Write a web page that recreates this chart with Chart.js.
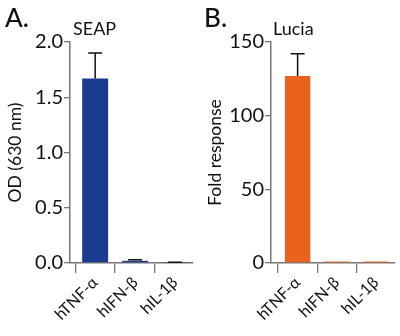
<!DOCTYPE html>
<html><head><meta charset="utf-8">
<script src="https://cdn.jsdelivr.net/npm/chart.js@4"></script>
<style>
html,body{margin:0;padding:0;background:#fff;}
#wrap{position:relative;width:400px;height:336px;overflow:hidden;font-family:Lato,"Noto Sans",sans-serif;color:#111;}
.c{position:absolute;top:0;width:200px;height:336px;}
.lbl{position:absolute;white-space:nowrap;}
</style></head>
<body><div id="wrap">
<div class="c" style="left:0"><canvas id="a" width="200" height="336"></canvas></div>
<div class="c" style="left:200px"><canvas id="b" width="200" height="336"></canvas></div>
<div class="lbl" style="left:5px;top:1px;font-size:26px;font-weight:500;">A.</div>
<div class="lbl" style="left:73px;top:17px;font-size:18px;">SEAP</div>
<div class="lbl" style="left:204px;top:1px;font-size:26px;font-weight:500;">B.</div>
<div class="lbl" style="left:273px;top:17px;font-size:18px;">Lucia</div>
</div>
<script>
const categories = ["hTNF-\u03b1", "hIFN-\u03b2", "hIL-1\u03b2"];
const seapValues = [1.67, 0.02, 0.003];
const seapErrTop = [1.90, 0.03, 0.006];
const luciaValues = [127, 1, 1];
const luciaErrTop = [142, 1, 1];
const seapTicks = [0, 0.5, 1.0, 1.5, 2.0];
const luciaTicks = [0, 50, 100, 150];

const errPlugin = {
  id: 'err',
  afterDatasetsDraw(chart, args, opts) {
    const ctx = chart.ctx, x = chart.scales.x, y = chart.scales.y;
    const vals = opts.values, tops = opts.tops;
    ctx.save();
    ctx.strokeStyle = '#111';
    ctx.lineWidth = 1.5;
    tops.forEach((t, i) => {
      if (t <= vals[i]) return;
      const px = x.getPixelForValue(i);
      const y0 = y.getPixelForValue(vals[i]);
      const y1 = y.getPixelForValue(t);
      ctx.beginPath();
      ctx.moveTo(px, y0); ctx.lineTo(px, y1);
      ctx.moveTo(px - 7, y1); ctx.lineTo(px + 7, y1);
      ctx.stroke();
    });
    ctx.restore();
  }
};

function make(id, values, tops, ticks, color, title, dec, yW, start, range, rightPad) {
  const tickSet = ticks;
  new Chart(document.getElementById(id), {
    type: 'bar',
    data: { labels: categories, datasets: [{ data: values, backgroundColor: color, borderWidth: 0,
      categoryPercentage: 1, barPercentage: 0.65 }] },
    options: {
      responsive: false, animation: false, devicePixelRatio: 1,
      layout: { padding: { top: 42, right: rightPad, left: 0, bottom: 0 } },
      plugins: { legend: { display: false }, tooltip: { enabled: false }, err: { values, tops } },
      scales: {
        x: {
          offset: true,
          afterBuildTicks(s) { s._startValue = start; s._valueRange = range; },
          grid: { display: true, drawOnChartArea: false, drawTicks: true, tickLength: 10, color: '#777', lineWidth: 1.3 },
          border: { display: true, color: '#777', width: 1.5 },
          ticks: { color: '#111', font: { family: 'Lato', size: 16 }, minRotation: 45, maxRotation: 45, padding: 0 },
          afterFit(s) { s.height = 73; }
        },
        y: {
          min: tickSet[0], max: tickSet[tickSet.length - 1],
          afterBuildTicks(s) { s.ticks = tickSet.map(v => ({ value: v })); },
          grid: { display: true, drawOnChartArea: false, drawTicks: true, tickLength: 6, color: '#777', lineWidth: 1.3 },
          border: { display: true, color: '#777', width: 1.5 },
          ticks: { color: '#111', font: { family: 'Lato', size: 20 }, padding: 1,
            callback: v => dec ? Number(v).toFixed(1) : String(v) },
          title: { display: true, text: title, color: '#111', font: { family: 'Lato', size: 17.5 }, padding: { top: 5, bottom: 0 } },
          afterFit(s) { s.width = yW; }
        }
      }
    },
    plugins: [errPlugin]
  });
}
make('a', seapValues, seapErrTop, seapTicks, '#1b3b8e', 'OD (630 nm)', true, 70, -0.63, 3.08, 7);
make('b', luciaValues, luciaErrTop, luciaTicks, '#ea631e', 'Fold response', false, 71, -0.68, 3.17, 5);
</script>
</body></html>
